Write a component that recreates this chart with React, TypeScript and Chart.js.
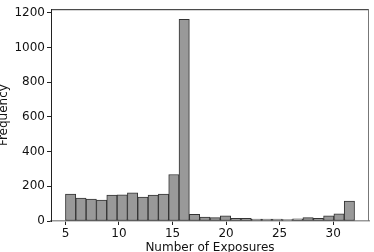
import React, { useEffect, useRef } from "react";
import { Chart, registerables } from "chart.js";

Chart.register(...registerables);

// Histogram bins span from binStart to binEnd, one value per bin
const binStart = 5;
const binEnd = 32;
const frequencies = [
  155, 132, 126, 121, 149, 151, 162, 138, 149, 155, 268, 1163,
  38, 23, 19, 30, 15, 15, 11, 11, 11, 8, 13, 19, 15, 30, 41, 115,
];
const xTickValues = [5, 10, 15, 20, 25, 30];
const yTickValues = [0, 200, 400, 600, 800, 1000, 1200];
const xTitle = "Number of Exposures";
const yTitle = "Frequency";

const FONT = "'DejaVu Sans', sans-serif";

export default function App() {
  const ref = useRef<HTMLCanvasElement | null>(null);

  useEffect(() => {
    document.body.style.margin = "0";
    const canvas = ref.current;
    if (!canvas) return;
    const n = frequencies.length;
    const w = (binEnd - binStart) / n;
    const points = frequencies.map((v, i) => ({ x: binStart + (i + 0.5) * w, y: v }));
    const span = binEnd - binStart;
    const xMin = binStart - 0.05 * span;
    const xMax = binEnd + 0.05 * span;
    const yMax = Math.max(...frequencies) * 1.05;

    const spines = {
      id: "spines",
      afterDraw(chart: any) {
        const { ctx, chartArea } = chart;
        const { left, right, top, bottom } = chartArea;
        ctx.save();
        ctx.lineWidth = 1;
        ctx.strokeStyle = "#222";
        ctx.beginPath();
        ctx.moveTo(left, top + 0.5);
        ctx.lineTo(right, top + 0.5);
        ctx.stroke();
        ctx.strokeStyle = "#777";
        ctx.beginPath();
        ctx.moveTo(right - 0.5, top);
        ctx.lineTo(right - 0.5, bottom);
        ctx.stroke();
        ctx.restore();
      },
    };

    const chart = new Chart(canvas, {
      type: "bar",
      data: {
        datasets: [
          {
            data: points,
            backgroundColor: "#999999",
            borderColor: "#333333",
            borderWidth: 1,
            borderSkipped: false,
            barPercentage: 1,
            categoryPercentage: 1,
          },
        ],
      },
      options: {
        animation: false,
        responsive: false,
        devicePixelRatio: 1,
        layout: { padding: { top: 4, right: 5, left: 0, bottom: 0 } },
        plugins: { legend: { display: false }, tooltip: { enabled: false } },
        scales: {
          x: {
            type: "linear",
            min: xMin,
            max: xMax,
            offset: false,
            grid: { display: true, drawOnChartArea: false, offset: false, tickLength: 4, tickColor: "#222" },
            border: { display: true, color: "#999", width: 1.5 },
            afterBuildTicks(s: any) {
              s.ticks = xTickValues.map((v) => ({ value: v }));
            },
            ticks: {
              padding: 2,
              color: "#111",
              font: { family: FONT, size: 12 },
              maxRotation: 0,
              autoSkip: false,
              callback: (v: any) => String(v),
            },
            title: {
              display: true,
              text: xTitle,
              color: "#111",
              font: { family: FONT, size: 12 },
              padding: { top: 0, bottom: -3.5 },
            },
            afterFit(s: any) {
              s.height = 31;
            },
          },
          y: {
            min: 0,
            max: yMax,
            grid: { display: true, drawOnChartArea: false, tickLength: 4, tickColor: "#222" },
            border: { display: true, color: "#222", width: 1 },
            afterBuildTicks(s: any) {
              s.ticks = yTickValues.map((v) => ({ value: v }));
            },
            ticks: {
              padding: 2,
              color: "#111",
              autoSkip: false,
              font: { family: FONT, size: 12 },
              callback: (v: any) => String(v),
            },
            title: {
              display: true,
              text: yTitle,
              color: "#111",
              font: { family: FONT, size: 12 },
              padding: { top: -3, bottom: 0 },
            },
            afterFit(s: any) {
              s.width = 51;
            },
          },
        },
      },
      plugins: [spines],
    });
    return () => chart.destroy();
  }, []);

  return (
    <div style={{ position: "fixed", left: 0, top: 0, width: 374, height: 252 }}>
      <canvas ref={ref} width={374} height={252} style={{ width: 374, height: 252, display: "block" }} />
    </div>
  );
}
